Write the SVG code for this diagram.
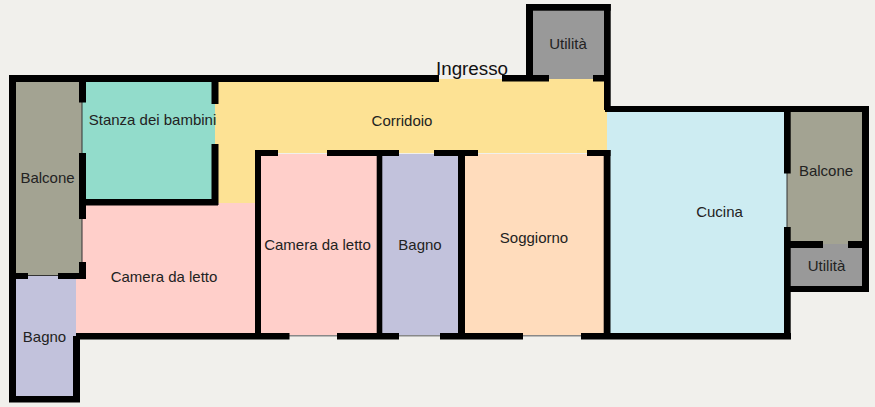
<svg xmlns="http://www.w3.org/2000/svg" width="875" height="407" viewBox="0 0 875 407">
<style>
.w{fill:#000}
.t{fill:#888;}
.l{fill:#333}
text{font-family:"Liberation Sans",Arial,sans-serif;font-size:15px;fill:#222;text-anchor:middle}
</style>
<rect width="875" height="407" fill="#f1f0ec"/>
<g id="rooms">
<rect x="16" y="82" width="66" height="193" fill="#a3a392"/>
<rect x="82" y="82" width="133" height="120" fill="#92dccb"/>
<path d="M215 79H607V153H255V204H215Z" fill="#fde294"/>
<path d="M82 203H258V335H76V276H82Z" fill="#ffcfca"/>
<path d="M16 276H76V397H16Z" fill="#c2c2dc"/>
<rect x="259" y="154" width="120" height="181" fill="#ffcfca"/>
<rect x="380" y="154" width="80" height="181" fill="#c2c2dc"/>
<rect x="462" y="154" width="145" height="181" fill="#ffdcbc"/>
<rect x="607" y="110" width="180" height="225" fill="#cdecf2"/>
<rect x="787" y="110" width="77" height="134" fill="#a3a392"/>
<rect x="787" y="244" width="77" height="44" fill="#999"/>
<rect x="530" y="8" width="76" height="71" fill="#999"/>
</g>
<g id="thin-lines">
<rect class="l" x="81.500" y="102" width="1" height="51"/>
<rect class="l" x="81.500" y="219" width="1" height="43"/>
<rect class="l" x="28" y="275" width="30" height="1"/>
<rect class="l" x="786.500" y="173" width="1" height="54"/>
<rect class="t" x="289" y="335" width="48" height="1.500"/>
<rect class="t" x="399" y="335" width="41" height="1.500"/>
<rect class="t" x="523" y="335" width="58" height="1.500"/>
</g>
<g id="walls">
<rect class="w" x="9" y="75" width="430" height="7"/>
<rect class="w" x="502" y="75" width="47" height="6.500"/>
<rect class="w" x="593" y="75" width="14" height="6.500"/>
<rect class="w" x="9" y="75" width="7" height="327"/>
<rect class="w" x="9" y="396" width="71" height="6.500"/>
<rect class="w" x="73" y="336" width="7" height="66"/>
<rect class="w" x="76" y="333" width="213.500" height="6.500"/>
<rect class="w" x="337" y="333" width="62" height="6.500"/>
<rect class="w" x="440" y="333" width="83" height="6.500"/>
<rect class="w" x="581" y="333" width="210" height="6.500"/>
<rect class="w" x="79" y="82" width="7" height="20.500"/>
<rect class="w" x="79" y="153" width="7" height="66"/>
<rect class="w" x="79" y="262" width="7" height="17"/>
<rect class="w" x="16" y="273" width="12" height="6"/>
<rect class="w" x="58" y="273" width="28" height="6"/>
<rect class="w" x="211.500" y="82" width="7" height="22"/>
<rect class="w" x="211.500" y="144" width="7" height="61"/>
<rect class="w" x="83" y="199" width="135" height="6.500"/>
<rect class="w" x="255" y="150" width="6" height="185"/>
<rect class="w" x="255" y="150" width="23" height="6"/>
<rect class="w" x="327" y="150" width="72" height="6"/>
<rect class="w" x="434" y="150" width="44" height="6"/>
<rect class="w" x="587" y="150" width="23.500" height="6"/>
<rect class="w" x="376.700" y="150" width="5.600" height="185"/>
<rect class="w" x="458" y="150" width="7" height="185"/>
<rect class="w" x="603.700" y="150" width="6.800" height="185"/>
<rect class="w" x="526" y="4" width="84.700" height="6.700"/>
<rect class="w" x="526" y="4" width="7" height="75"/>
<rect class="w" x="604" y="4" width="6.700" height="106"/>
<rect class="w" x="605" y="106" width="264" height="6"/>
<rect class="w" x="862" y="106" width="7" height="186"/>
<rect class="w" x="787" y="286" width="82" height="6"/>
<rect class="w" x="784" y="106" width="6.700" height="67.500"/>
<rect class="w" x="784" y="227" width="6.700" height="112"/>
<rect class="w" x="787" y="241" width="36" height="7"/>
<rect class="w" x="848" y="241" width="16" height="7"/>
</g>
<g id="labels">
<text x="152.500" y="125">Stanza dei bambini</text>
<text x="47.500" y="183">Balcone</text>
<text x="402" y="125.500">Corridoio</text>
<text x="317.500" y="250">Camera da letto</text>
<text x="420" y="250">Bagno</text>
<text x="534" y="243">Soggiorno</text>
<text x="719.500" y="216.500">Cucina</text>
<text x="826" y="176">Balcone</text>
<text x="826.500" y="271">Utilità</text>
<text x="568" y="49">Utilità</text>
<text x="164" y="281.500">Camera da letto</text>
<text x="44.500" y="342">Bagno</text>
<text x="472" y="75" style="font-size:18.800px;fill:#111">Ingresso</text>
</g>
</svg>
